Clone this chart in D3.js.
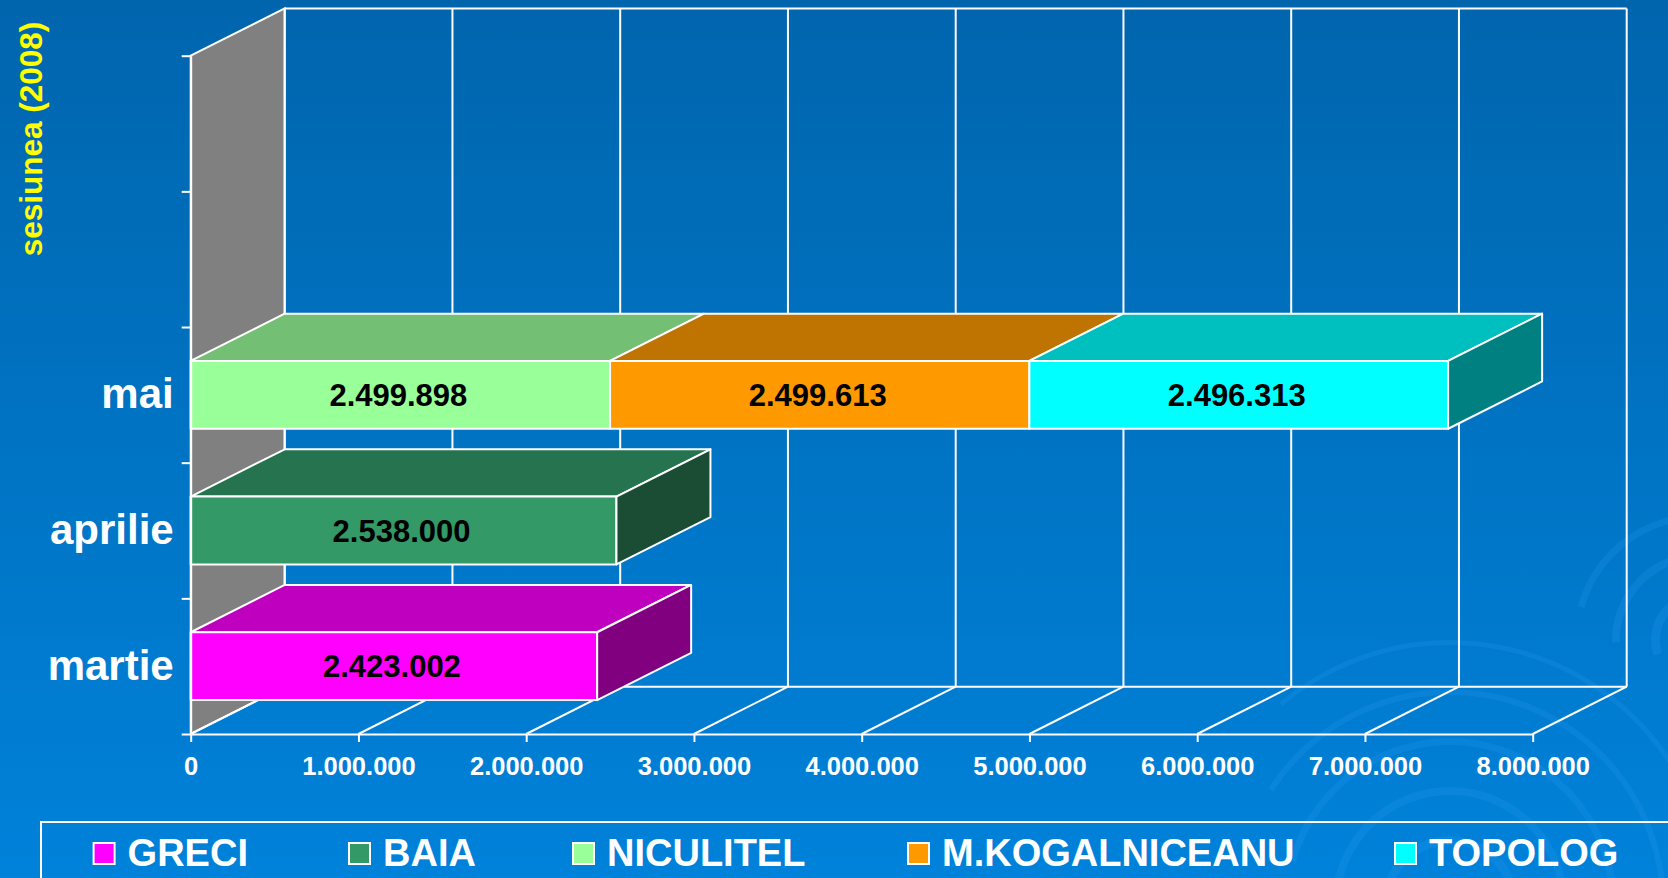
<!DOCTYPE html>
<html>
<head>
<meta charset="utf-8">
<script src="https://cdn.jsdelivr.net/npm/d3@7"></script>
<style>
  html, body { margin: 0; padding: 0; background: #0070bd; overflow: hidden; }
  svg { display: block; font-family: Arial, "Liberation Sans", sans-serif; }
</style>
</head>
<body>
<div id="chart"></div>
<script>
// date
const categories = ["martie", "aprilie", "mai"];
const slots = 5; // axa are 5 pozitii, doar primele 3 folosite
const seriesNames = ["GRECI", "BAIA", "NICULITEL", "M.KOGALNICEANU", "TOPOLOG"];
const grec = [2423002, 0, 0];
const baia = [0, 2538000, 0];
const niculitel = [0, 0, 2499898];
const kogalniceanu = [0, 0, 2499613];
const topolog = [0, 0, 2496313];
const xTicks = [0, 1000000, 2000000, 3000000, 4000000, 5000000, 6000000, 7000000, 8000000];
const axisTitle = "sesiunea (2008)";

const seriesValues = [grec, baia, niculitel, kogalniceanu, topolog];
const front = ["#ff00ff", "#339966", "#99ff99", "#ff9900", "#00ffff"];
const topC  = ["#bf00bf", "#267350", "#73bf73", "#bf7300", "#00bfbf"];
const sideC = ["#800080", "#1a4d33", "#4d804d", "#804d00", "#008080"];

const width = 1668, height = 878;
const plot = { left: 190.7, right: 1532.7, top: 55.7, bottom: 734 };
const depth = { dx: 94, dy: -47.3 };
const legendX = [93.6, 349, 573, 908, 1395]; // pozitii elemente legenda

const svg = d3.select("#chart").append("svg")
  .attr("width", width).attr("height", height);

// fundal
const defs = svg.append("defs");
const grad = defs.append("linearGradient").attr("id", "bg")
  .attr("x1", 0).attr("y1", 0).attr("x2", 0).attr("y2", 1);
grad.append("stop").attr("offset", "0%").attr("stop-color", "#0065ad");
grad.append("stop").attr("offset", "100%").attr("stop-color", "#0082da");
svg.append("rect").attr("width", width).attr("height", height).attr("fill", "url(#bg)");

// cercuri decorative
const deco = svg.append("g");
[[1450, 905, [60, 110, 160, 210, 260]], [1700, 640, [40, 80, 120]]].forEach(([cx, cy, rs]) => {
  rs.forEach((r, i) => {
    const arc = d3.arc().innerRadius(r).outerRadius(r + 9 - i)
      .startAngle(-1.9 + i * 0.3).endAngle(1.4 + i * 0.25);
    deco.append("path").attr("transform", `translate(${cx},${cy})`).attr("d", arc())
      .attr("fill", "#2a9af0").attr("fill-opacity", 0.22);
  });
});

// scale
const x = d3.scaleLinear().domain([0, 8000000]).range([plot.left, plot.right]);
const yIdx = d3.scaleLinear().domain([0, slots]).range([plot.bottom, plot.top]);
const y = d3.scaleBand().domain(d3.range(slots)).range([plot.bottom, plot.top])
  .paddingInner(0.5).paddingOuter(0.25);

const grid = svg.append("g").attr("stroke", "#fff").attr("stroke-width", 2).attr("fill", "none");

// perete stang gri
const wall = [[plot.left, plot.top], [plot.left + depth.dx, plot.top + depth.dy],
  [plot.left + depth.dx, plot.bottom + depth.dy], [plot.left, plot.bottom]];
grid.append("path").attr("d", d3.line()(wall) + "Z").attr("fill", "#808080");

// perete spate - linii verticale
xTicks.forEach(t => {
  grid.append("line")
    .attr("x1", x(t) + depth.dx).attr("x2", x(t) + depth.dx)
    .attr("y1", plot.top + depth.dy).attr("y2", plot.bottom + depth.dy);
  // podea - diagonale
  grid.append("line")
    .attr("x1", x(t)).attr("y1", plot.bottom)
    .attr("x2", x(t) + depth.dx).attr("y2", plot.bottom + depth.dy);
});
grid.append("line").attr("x1", x(0) + depth.dx).attr("x2", x(8000000) + depth.dx)
  .attr("y1", plot.top + depth.dy).attr("y2", plot.top + depth.dy);
grid.append("line").attr("x1", x(0) + depth.dx).attr("x2", x(8000000) + depth.dx)
  .attr("y1", plot.bottom + depth.dy).attr("y2", plot.bottom + depth.dy);

// bare 3D
const bars = svg.append("g").attr("stroke", "#fff").attr("stroke-width", 2).attr("stroke-linejoin", "round");
const labels = svg.append("g");
for (let c = slots - 1; c >= 0; c--) {
  if (c >= categories.length) continue;
  let acc = 0;
  const segs = [];
  seriesValues.forEach((vals, s) => {
    const v = vals[c];
    if (v > 0) { segs.push({ s, x0: acc, x1: acc + v, v }); acc += v; }
  });
  const yt = y(c), yb = y(c) + y.bandwidth();
  segs.forEach((g, i) => {
    const xa = x(g.x0), xb = x(g.x1);
    bars.append("path").attr("fill", topC[g.s])
      .attr("d", d3.line()([[xa, yt], [xa + depth.dx, yt + depth.dy], [xb + depth.dx, yt + depth.dy], [xb, yt]]) + "Z");
    bars.append("rect").attr("fill", front[g.s])
      .attr("x", xa).attr("y", yt).attr("width", xb - xa).attr("height", yb - yt);
    if (i === segs.length - 1) {
      bars.append("path").attr("fill", sideC[g.s])
        .attr("d", d3.line()([[xb, yt], [xb + depth.dx, yt + depth.dy], [xb + depth.dx, yb + depth.dy], [xb, yb]]) + "Z");
    }
    labels.append("text")
      .attr("x", (xa + xb) / 2 - 2).attr("y", (yt + yb) / 2 + 11)
      .attr("text-anchor", "middle").attr("font-weight", "bold").attr("font-size", 31)
      .attr("fill", "#000")
      .text(d3.format(",")(g.v).replace(/,/g, "."));
  });
}

// axa X
const xAxis = svg.append("g").attr("transform", `translate(0,${plot.bottom})`)
  .call(d3.axisBottom(x).tickValues(xTicks).tickSize(8).tickSizeOuter(0).tickPadding(15)
    .tickFormat(d => d3.format(",")(d).replace(/,/g, ".")));
xAxis.selectAll("path, line").attr("stroke", "#fff").attr("stroke-width", 2);
xAxis.selectAll("text").attr("fill", "#fff").attr("font-size", 25.5).attr("font-weight", "bold")
  .attr("font-family", "Arial, 'Liberation Sans', sans-serif");

// axa Y
const yAxis = svg.append("g").attr("transform", `translate(${plot.left},0)`)
  .call(d3.axisLeft(yIdx).tickValues(d3.range(slots + 1)).tickSize(9).tickSizeOuter(0).tickFormat(""));
yAxis.selectAll("path, line").attr("stroke", "#fff").attr("stroke-width", 2);

const yLab = svg.append("g").attr("transform", `translate(${plot.left},0)`)
  .call(d3.axisLeft(y).tickSize(0).tickPadding(17).tickFormat(i => categories[i] || ""));
yLab.select(".domain").remove();
yLab.selectAll("text").attr("fill", "#fff").attr("font-size", 42).attr("font-weight", "bold")
  .attr("font-family", "Arial, 'Liberation Sans', sans-serif");

// titlu axa
svg.append("text")
  .attr("transform", "translate(42,139) rotate(-90)")
  .attr("text-anchor", "middle").attr("fill", "#ffff00")
  .attr("font-size", 31.5).attr("font-weight", "bold")
  .text(axisTitle);

// legenda
svg.append("rect").attr("x", 41).attr("y", 822).attr("width", 1700).attr("height", 100)
  .attr("fill", "none").attr("stroke", "#fff").attr("stroke-width", 2);
seriesNames.forEach((name, i) => {
  const lx = legendX[i];
  svg.append("rect").attr("x", lx).attr("y", 843).attr("width", 21).attr("height", 21)
    .attr("fill", front[i]).attr("stroke", "#fff").attr("stroke-width", 2);
  svg.append("text").attr("x", lx + 34).attr("y", 866)
    .attr("fill", "#fff").attr("font-size", 38).attr("font-weight", "bold").text(name);
});
</script>
</body>
</html>
